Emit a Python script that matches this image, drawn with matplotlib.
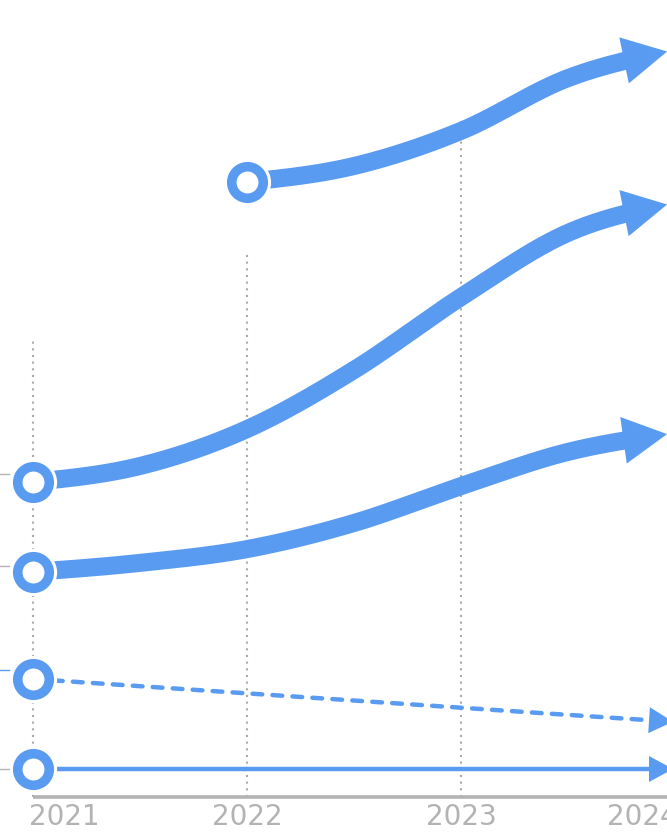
"""Cropped trend chart: smoothed series with open-circle starts and arrow ends."""

import matplotlib
import numpy as np

matplotlib.use("Agg")

from matplotlib import pyplot as plt
from matplotlib import transforms
from matplotlib.patches import Polygon

BLUE = "#5a9bf2"
GREY = "#b3b3b3"

YEARS = [2021, 2022, 2023, 2024]
YEAR_LABELS = ["2021", "2022", "2023", "2024"]
HALF_YEARS = [2021.0, 2021.5, 2022.0, 2022.5, 2023.0, 2023.5, 2024.0]

# series values (half-yearly for the curved ones)
SERIES_A = [np.nan, np.nan, 195.7, 201.0, 212.7, 230.3, 239.7]
SERIES_B = [95.7, 101.0, 113.3, 133.0, 157.3, 178.7, 188.7]
SERIES_C = [65.7, 68.7, 73.3, 82.0, 94.3, 105.7, 112.0]
SERIES_D = [30.0, 25.2, 20.4, 15.7]
SERIES_E = [0.0, 0.0, 0.0, 0.0]

GRID_TOPS = [143.7, 172.0, 217.0]
Y_TICKS = [98.3, 67.7, 33.0, 0.0]
Y_TICK_COLORS = [GREY, GREY, BLUE, GREY]


def monotone_bezier(x, y, samples=60):
    """Sample a monotone-x cubic curve through the points (d3 curveMonotoneX)."""
    x = np.asarray(x, float)
    y = np.asarray(y, float)
    h = np.diff(x)
    s = np.diff(y) / h
    n = len(x)
    t = np.zeros(n)
    for i in range(1, n - 1):
        p = (s[i - 1] * h[i] + s[i] * h[i - 1]) / (h[i - 1] + h[i])
        t[i] = (np.sign(s[i - 1]) + np.sign(s[i])) * min(abs(s[i - 1]), abs(s[i]), 0.5 * abs(p))
    if n > 2:
        t[0] = (3 * s[0] - t[1]) / 2
        t[-1] = (3 * s[-1] - t[-2]) / 2
    else:
        t[:] = s[0]
    u = np.linspace(0, 1, samples)[:, None]
    pts = []
    for i in range(n - 1):
        d = h[i] / 3
        p0 = np.array([x[i], y[i]])
        p1 = np.array([x[i] + d, y[i] + d * t[i]])
        p2 = np.array([x[i + 1] - d, y[i + 1] - d * t[i + 1]])
        p3 = np.array([x[i + 1], y[i + 1]])
        seg = ((1 - u) ** 3) * p0 + 3 * ((1 - u) ** 2) * u * p1 + 3 * (1 - u) * u**2 * p2 + u**3 * p3
        pts.append(seg if i == 0 else seg[1:])
    return np.vstack(pts)


def point_back(disp, dist_from_end, d):
    """Point on the sampled display-space curve at arc distance d from its end."""
    i = np.searchsorted(-dist_from_end, -d)
    i = min(max(i, 1), len(disp) - 1)
    a, b = dist_from_end[i - 1], dist_from_end[i]
    f = 0.0 if a == b else (a - d) / (a - b)
    return disp[i - 1] + f * (disp[i] - disp[i - 1]), i


def draw_arrow_series(ax, xs_all, values, lw, head_len, head_half, tip_back, ls="-"):
    xs_all = np.asarray(xs_all, float)
    values = np.asarray(values, float)
    ok = ~np.isnan(values)
    xs, ys = xs_all[ok], values[ok]
    curve = monotone_bezier(xs, ys)
    disp = ax.transData.transform(curve)
    seg = np.hypot(*np.diff(disp, axis=0).T)
    dist_from_end = np.concatenate([np.cumsum(seg[::-1])[::-1], [0.0]])

    end_dir = disp[-1] - disp[-2]
    end_dir = end_dir / np.hypot(*end_dir)
    tip, _ = point_back(disp, dist_from_end, tip_back)
    cut_pt, cut = point_back(disp, dist_from_end, tip_back + head_len - 3)
    body = np.vstack([disp[:cut], cut_pt])
    body = ax.transData.inverted().transform(body)
    ax.plot(body[:, 0], body[:, 1], color=BLUE, lw=lw, ls=ls,
            solid_capstyle="butt", dash_capstyle="round", clip_on=False, zorder=3)

    perp = np.array([-end_dir[1], end_dir[0]])
    head_base = tip - end_dir * head_len
    head = np.array([tip, head_base + perp * head_half, head_base - perp * head_half])
    head = ax.transData.inverted().transform(head)
    ax.add_patch(Polygon(head, closed=True, facecolor=BLUE, edgecolor="none",
                         clip_on=False, zorder=3))

    # open-circle start marker with a white halo
    ax.plot(xs[0], ys[0], marker="o", ms=34, mew=0, color="white", clip_on=False, zorder=4)
    ax.plot(xs[0], ys[0], marker="o", ms=22.7, mew=6.9, mfc="white", mec=BLUE,
            clip_on=False, zorder=5)


def main() -> None:
    fig = plt.figure(figsize=(6.67, 8.32), dpi=100)
    ax = fig.add_axes([33 / 667, 35 / 832, 642 / 667, 797 / 832])
    ax.set_xlim(2021, 2024)
    ax.set_ylim(-28 / 3, 769 / 3)

    for side in ("top", "right", "left"):
        ax.spines[side].set_visible(False)
    ax.spines["bottom"].set_color(GREY)
    ax.spines["bottom"].set_linewidth(2.6)
    ax.spines["bottom"].set_capstyle("butt")

    ax.vlines(YEARS[:3], -28 / 3, GRID_TOPS, colors="#aaaaaa", lw=1.5,
              linestyles=(0, (1, 2.2)), zorder=1, clip_on=False)

    ax.set_xticks(YEARS, labels=YEAR_LABELS)
    ax.tick_params(axis="x", length=0, pad=4, labelsize=20, labelcolor=GREY)
    labels = ax.get_xticklabels()
    labels[0].set_ha("left")
    labels[0].set_transform(labels[0].get_transform()
                            + transforms.ScaledTranslation(-4 / 100, 0, fig.dpi_scale_trans))
    labels[-1].set_ha("right")
    labels[-1].set_transform(labels[-1].get_transform()
                             + transforms.ScaledTranslation(3 / 100, 0, fig.dpi_scale_trans))
    ax.set_yticks([])

    ytrans = ax.get_yaxis_transform()
    for val, col in zip(Y_TICKS, Y_TICK_COLORS):
        ax.plot([-33 / 642, -24 / 642], [val, val], color=col, lw=1.0,
                transform=ytrans, clip_on=False)

    thin = dict(lw=3.2, head_len=24, head_half=13, tip_back=2)
    thick = dict(lw=13, head_len=44, head_half=23.5, tip_back=8)
    draw_arrow_series(ax, YEARS, SERIES_E, **thin)
    draw_arrow_series(ax, YEARS, SERIES_D, ls=(0, (2.2, 2.3)), **thin)
    draw_arrow_series(ax, HALF_YEARS, SERIES_C, **thick)
    draw_arrow_series(ax, HALF_YEARS, SERIES_B, **thick)
    draw_arrow_series(ax, HALF_YEARS, SERIES_A, **thick)

    fig.savefig("out.png", dpi=100)
    plt.close(fig)


if __name__ == "__main__":
    main()
